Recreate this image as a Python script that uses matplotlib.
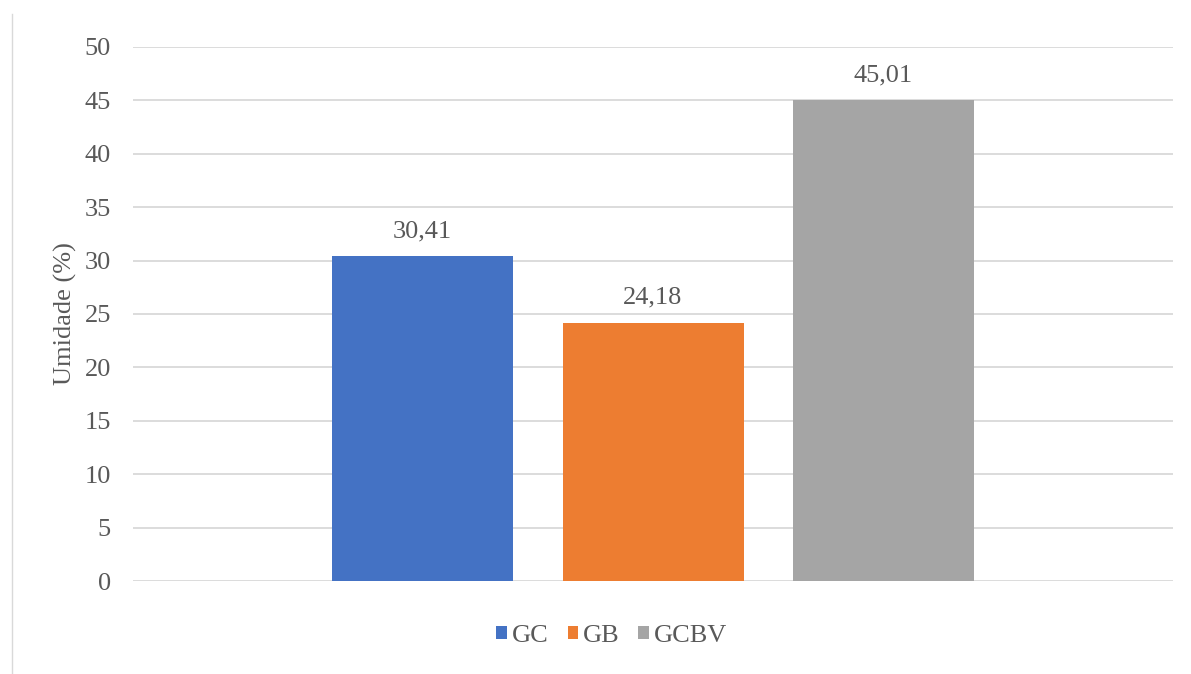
import numpy as np
import matplotlib.pyplot as plt
from matplotlib.lines import Line2D

series = ["GC", "GB", "GCBV"]
values = [30.41, 24.18, 45.01]
colors = ["#4472C4", "#ED7D31", "#A5A5A5"]
yticks = [0, 5, 10, 15, 20, 25, 30, 35, 40, 45, 50]

plt.rcParams['font.family'] = ['Liberation Serif', 'DejaVu Serif']
text_color = "#595959"

fig = plt.figure(figsize=(11.91, 6.74), dpi=100)
ax = fig.add_axes([133/1191, (674-581)/674, 1040/1191, (581-47)/674])

width = 181/1040
offsets = np.array([-1, 0, 1]) * (230.5/1040)
for off, val, col, name in zip(offsets, values, colors, series):
    ax.bar(off, val, width=width, color=col, label=name, zorder=3)
    ax.text(off, val + 1.3, f"{val:.2f}".replace(".", ","), ha="center", va="bottom",
            fontsize=19, color=text_color)

ax.set_xlim(-0.5, 0.5)
ax.set_ylim(0, 50)
ax.set_yticks(yticks)
ax.set_xticks([])
ax.grid(axis="y", color="#D9D9D9", linewidth=1.3, zorder=0)
for s in ax.spines.values():
    s.set_visible(False)
ax.tick_params(axis="y", length=0, pad=16, labelsize=19, labelcolor=text_color)
ax.set_ylabel("Umidade (%)", fontsize=19, color=text_color, labelpad=5)

fig.legend(loc="center", bbox_to_anchor=(612/1191, (674-636)/674), ncol=3, frameon=False,
           fontsize=19, labelcolor=text_color, handlelength=0.4, handleheight=0.4,
           handletextpad=0.2, columnspacing=0.7)

fig.add_artist(Line2D([11.5/1191, 11.5/1191], [0, (674-14)/674], transform=fig.transFigure,
                      color="#D9D9D9", linewidth=1))

fig.savefig("out.png", dpi=100)
